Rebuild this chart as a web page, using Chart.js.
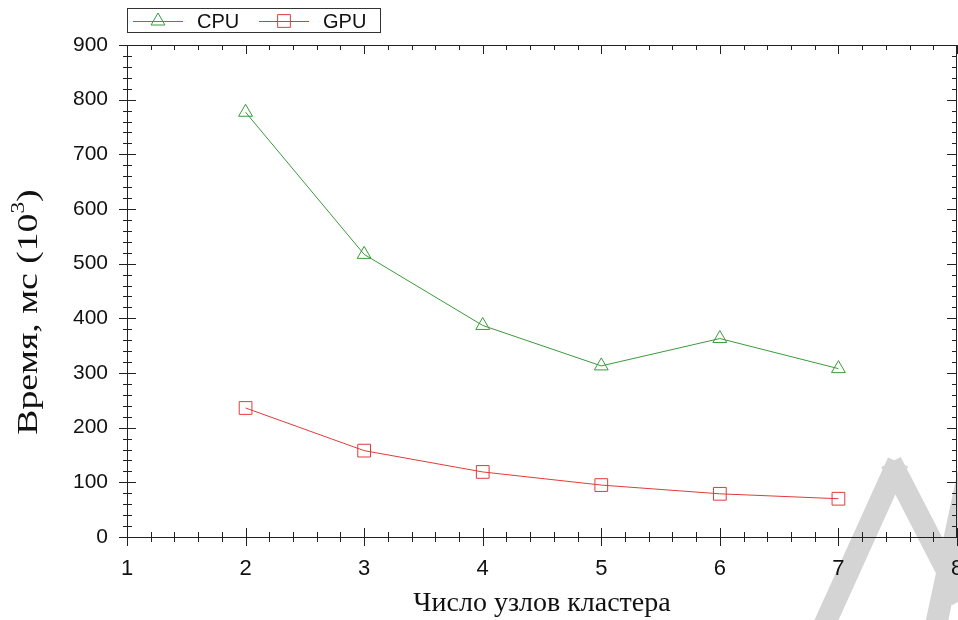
<!DOCTYPE html>
<html>
<head>
<meta charset="utf-8">
<script src="https://cdn.jsdelivr.net/npm/chart.js@4/dist/chart.umd.min.js"></script>
<style>
  body { margin: 0; background: #fff; }
  #wrap { width: 958px; height: 620px; }
</style>
</head>
<body>
<div id="wrap"><canvas id="chart" width="958" height="620"></canvas></div>
<script>
// node counts on the x axis
const nodes = [2, 3, 4, 5, 6, 7];
// time, ms (x10^3)
const cpuTime = [777, 517, 387, 313, 363, 308];
const gpuTime = [236, 158, 119, 95, 79, 70];

const xTicks = [1, 2, 3, 4, 5, 6, 7, 8];
const yTicks = [0, 100, 200, 300, 400, 500, 600, 700, 800, 900];

const GREEN = "#3a9a3a";
const RED = "#e23a3a";
const AXIS = "#222";

function toPoints(ys) {
  return nodes.map((x, i) => ({ x, y: ys[i] }));
}

// faint watermark in the lower right corner, behind everything
const watermark = {
  id: "watermark",
  beforeDraw(chart) {
    const ctx = chart.ctx;
    ctx.save();
    ctx.strokeStyle = "#d4d4d4";
    ctx.lineWidth = 22;
    ctx.lineCap = "butt";
    ctx.beginPath();
    ctx.moveTo(822, 630); ctx.lineTo(898, 462);
    ctx.moveTo(891, 462); ctx.lineTo(962, 600);
    ctx.moveTo(935, 630); ctx.lineTo(982, 410);
    ctx.stroke();
    ctx.restore();
  }
};

// frame and the crossing / inward tick marks
const frameTicks = {
  id: "frameTicks",
  afterDraw(chart) {
    const { ctx, chartArea: a, scales } = chart;
    const xs = scales.x, ys = scales.y;
    ctx.save();
    ctx.strokeStyle = AXIS;
    ctx.lineWidth = 1;
    ctx.beginPath();
    ctx.rect(Math.round(a.left) + 0.5, Math.round(a.top) + 0.5,
      Math.round(a.right - a.left) - 1, Math.round(a.bottom - a.top));
    for (let i = 0; i <= 35; i++) {
      const v = 1 + i * 0.2;
      const px = Math.round(xs.getPixelForValue(v)) + 0.5;
      const major = i % 5 === 0;
      const d = major ? 9 : 5;
      ctx.moveTo(px, a.bottom - d); ctx.lineTo(px, a.bottom + d);
      ctx.moveTo(px, a.top); ctx.lineTo(px, a.top + (major ? 9 : 5));
    }
    for (let i = 0; i <= 45; i++) {
      const v = i * 20;
      const py = Math.round(ys.getPixelForValue(v)) + 0.5;
      const major = i % 5 === 0;
      ctx.moveTo(a.left - (major ? 8 : 4), py); ctx.lineTo(a.left + (major ? 9 : 5), py);
      ctx.moveTo(a.right, py); ctx.lineTo(a.right - (major ? 10 : 5), py);
    }
    ctx.stroke();
    ctx.restore();
  }
};

// boxed legend above the plot
const boxLegend = {
  id: "boxLegend",
  afterDraw(chart) {
    const ctx = chart.ctx;
    ctx.save();
    ctx.strokeStyle = "#333";
    ctx.lineWidth = 1;
    ctx.strokeRect(127.5, 8.5, 253, 24);
    const starts = [133, 259];
    const y = 21;
    chart.data.datasets.forEach((ds, i) => {
      const x0 = starts[i];
      ctx.strokeStyle = ds.borderColor;
      ctx.fillStyle = "rgba(0,0,0,0)";
      ctx.lineWidth = 1;
      ctx.beginPath();
      ctx.moveTo(x0, y + 0.5); ctx.lineTo(x0 + 50, y + 0.5);
      ctx.stroke();
      Chart.helpers.drawPoint(ctx, {
        pointStyle: ds.pointStyle, radius: ds.pointRadius,
        rotation: 0, borderWidth: 1
      }, x0 + 25, y);
      ctx.fillStyle = "#111";
      ctx.font = "20px 'Liberation Sans', Arial, sans-serif";
      ctx.textBaseline = "middle";
      ctx.textAlign = "left";
      ctx.fillText(ds.label, x0 + 64, y + 1);
    });
    ctx.restore();
  }
};

// rotated y title with superscript exponent (stretched along its length like the source)
const yTitle = {
  id: "yTitle",
  afterDraw(chart) {
    const ctx = chart.ctx;
    const main = "Время, мс (10";
    const sup = "3";
    const tail = ")";
    const big = "29px 'Liberation Serif', 'Times New Roman', serif";
    const small = "18px 'Liberation Serif', 'Times New Roman', serif";
    ctx.save();
    ctx.translate(29, 312);
    ctx.rotate(-Math.PI / 2);
    ctx.scale(1.3, 1);
    ctx.fillStyle = "#111";
    ctx.textBaseline = "middle";
    ctx.textAlign = "left";
    ctx.font = big;
    const w1 = ctx.measureText(main).width;
    const w3 = ctx.measureText(tail).width;
    ctx.font = small;
    const w2 = ctx.measureText(sup).width;
    let x = -(w1 + w2 + w3) / 2;
    ctx.font = big;
    ctx.fillText(main, x, 0);
    x += w1;
    ctx.font = small;
    ctx.fillText(sup, x, -10);
    x += w2;
    ctx.font = big;
    ctx.fillText(tail, x, 0);
    ctx.restore();
  }
};

new Chart(document.getElementById("chart"), {
  type: "line",
  data: {
    datasets: [
      {
        label: "CPU", data: toPoints(cpuTime),
        borderColor: GREEN, borderWidth: 1,
        pointStyle: "triangle", pointRadius: 8,
        pointBorderColor: GREEN, pointBackgroundColor: "rgba(0,0,0,0)",
        pointBorderWidth: 1, tension: 0
      },
      {
        label: "GPU", data: toPoints(gpuTime),
        borderColor: RED, borderWidth: 1,
        pointStyle: "rect", pointRadius: 9,
        pointBorderColor: RED, pointBackgroundColor: "rgba(0,0,0,0)",
        pointBorderWidth: 1, tension: 0
      }
    ]
  },
  options: {
    responsive: false,
    animation: false,
    events: [],
    layout: { autoPadding: false, padding: { top: 45, left: 0, right: 1, bottom: 0 } },
    plugins: { legend: { display: false }, tooltip: { enabled: false } },
    scales: {
      x: {
        type: "linear", min: 1, max: 8,
        afterBuildTicks: s => { s.ticks = xTicks.map(v => ({ value: v })); },
        afterFit: s => { s.height = 83; s.paddingLeft = 0; s.paddingRight = 0; },
        grid: { display: false }, border: { display: false },
        ticks: {
          padding: 11, color: "#111", maxRotation: 0,
          font: { family: "'Liberation Sans', Arial, sans-serif", size: 22 }
        },
        title: {
          display: true, text: "Число узлов кластера", color: "#111",
          padding: { top: 0, bottom: 0 },
          font: { family: "'Liberation Serif', 'Times New Roman', serif", size: 28 }
        }
      },
      y: {
        min: 0, max: 900,
        afterBuildTicks: s => { s.ticks = yTicks.map(v => ({ value: v })); },
        afterFit: s => { s.width = 127; s.paddingTop = 0; s.paddingBottom = 0; },
        grid: { display: false }, border: { display: false },
        ticks: {
          padding: 11, color: "#111",
          font: { family: "'Liberation Sans', Arial, sans-serif", size: 21 }
        }
      }
    }
  },
  plugins: [watermark, frameTicks, boxLegend, yTitle]
});
</script>
</body>
</html>
